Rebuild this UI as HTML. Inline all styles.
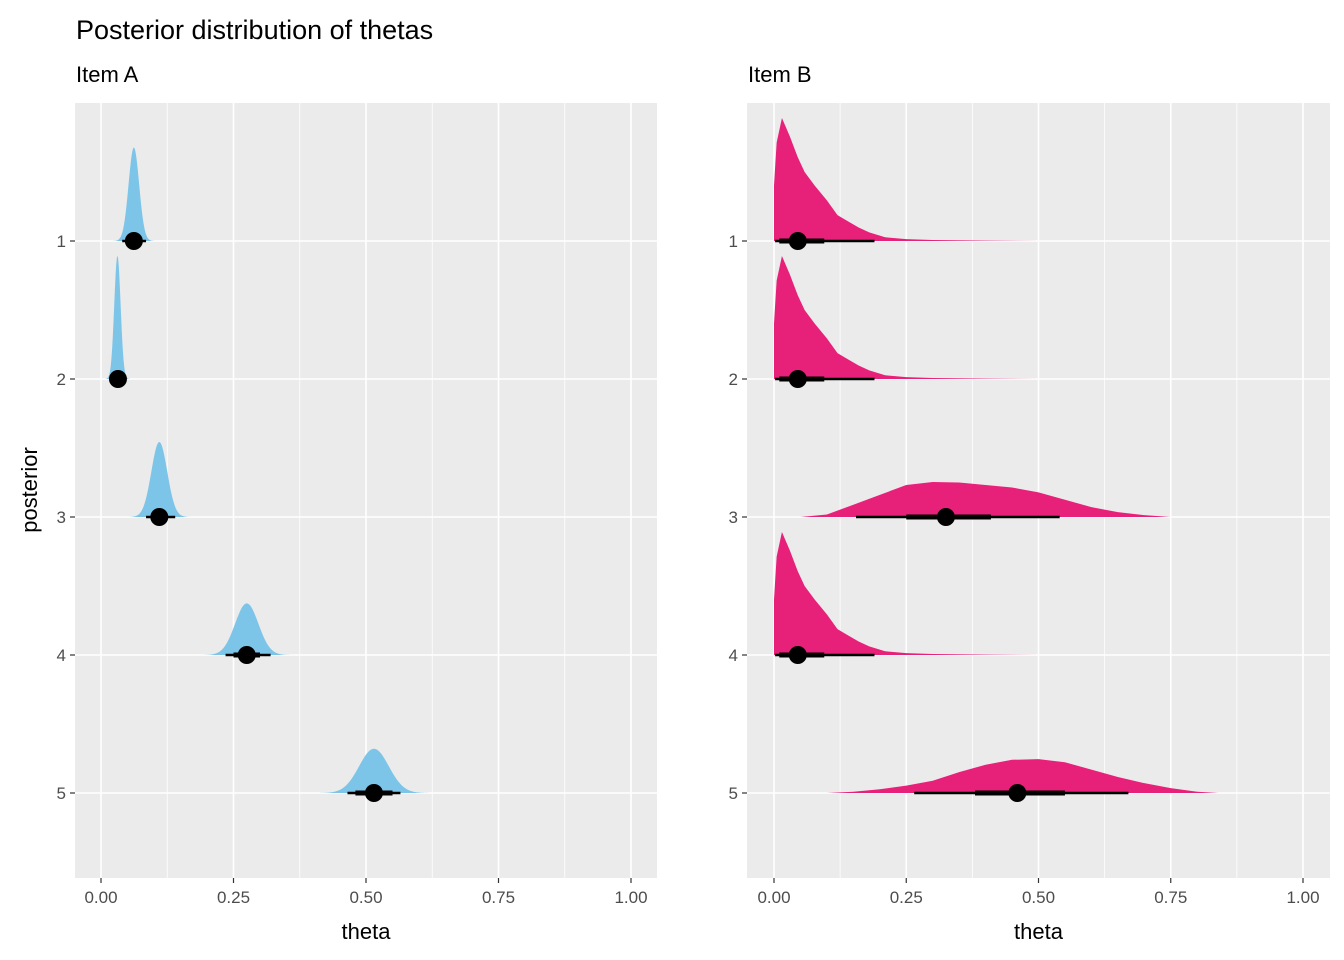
<!DOCTYPE html>
<html><head><meta charset="utf-8"><style>
body{margin:0;background:#fff;}
svg{display:block;font-family:"Liberation Sans",Arial,sans-serif;}
</style></head><body>
<svg id="chart" width="1344" height="960">
<text x="76" y="39" font-size="27" fill="#000">Posterior distribution of thetas</text>
<text x="37" y="490" font-size="22" fill="#000" transform="rotate(-90 37 490)" text-anchor="middle">posterior</text>
</svg>
<script>
// Item A: approx normal posteriors
const rows = [1,2,3,4,5];
const aMean = [0.062, 0.031, 0.11, 0.275, 0.515];
const aSd = [0.01, 0.006, 0.015, 0.022, 0.028];
const aPeak = [0.76, 1.0, 0.61, 0.42, 0.36];
const aPoint = [0.062, 0.032, 0.11, 0.275, 0.515];
const aThickLo = [0.05, 0.025, 0.095, 0.25, 0.48];
const aThickHi = [0.075, 0.04, 0.125, 0.3, 0.55];
const aThinLo = [0.04, 0.018, 0.085, 0.235, 0.465];
const aThinHi = [0.085, 0.048, 0.14, 0.32, 0.565];
// Item B: density shapes (theta grid, relative height)
const bGridSkew = [0,0.005,0.015,0.03,0.045,0.058,0.077,0.1,0.12,0.14,0.16,0.18,0.21,0.25,0.3,0.4,0.5];
const bHSkew = [0.45,0.8,1.0,0.85,0.68,0.56,0.45,0.33,0.21,0.16,0.11,0.07,0.03,0.015,0.008,0.003,0];
const bGrid3 = [0.05,0.1,0.15,0.2,0.25,0.3,0.35,0.4,0.45,0.5,0.55,0.6,0.65,0.7,0.75];
const bH3 = [0,0.02,0.1,0.18,0.26,0.285,0.28,0.26,0.24,0.2,0.14,0.08,0.04,0.015,0];
const bGrid5 = [0.1,0.15,0.2,0.25,0.3,0.35,0.4,0.45,0.5,0.55,0.6,0.65,0.7,0.75,0.8,0.84];
const bH5 = [0,0.01,0.03,0.06,0.1,0.17,0.23,0.27,0.275,0.25,0.19,0.13,0.08,0.04,0.01,0];
const bPoint = [0.045,0.045,0.325,0.045,0.46];
const bThickLo = [0.01,0.01,0.25,0.01,0.38];
const bThickHi = [0.095,0.095,0.41,0.095,0.55];
const bThinLo = [0.002,0.002,0.155,0.002,0.265];
const bThinHi = [0.19,0.19,0.54,0.19,0.67];
const xTicks = [0,0.25,0.5,0.75,1];
const xTickLabels = ["0.00","0.25","0.50","0.75","1.00"];

const NS="http://www.w3.org/2000/svg";
const svg=document.getElementById('chart');
function mk(tag,attrs,parent){const e=document.createElementNS(NS,tag);for(const k in attrs)e.setAttribute(k,attrs[k]);(parent||svg).appendChild(e);return e;}
const yScale=r=>241+(r-1)*138;
const HMAX=123;

function panel(px0,px1,x0px,x1px,label,fill,drawDens,pts,tl,th,nl,nh,key){
  const xs=v=>x0px+v*(x1px-x0px);
  const g=mk('g',{});
  
  
  const bg=mk('rect',{x:px0,y:103,width:px1-px0,height:775,fill:'#EBEBEB'},g);
  
  
  for(let i=0;i<4;i++){const v=0.125+i*0.25;mk('line',{x1:xs(v),x2:xs(v),y1:103,y2:878,stroke:'#fff','stroke-width':0.8},g);}
  xTicks.forEach((v,i)=>{
    mk('line',{x1:xs(v),x2:xs(v),y1:103,y2:878,stroke:'#fff','stroke-width':1.6},g);
    mk('line',{x1:xs(v),x2:xs(v),y1:878,y2:883,stroke:'#333','stroke-width':1.2},g);
    const t=mk('text',{x:xs(v),y:903,'font-size':17,fill:'#4d4d4d','text-anchor':'middle'},g);t.textContent=xTickLabels[i];
    
    
  });
  rows.forEach(r=>{
    mk('line',{x1:px0,x2:px1,y1:yScale(r),y2:yScale(r),stroke:'#fff','stroke-width':1.6},g);
    mk('line',{x1:px0-5,x2:px0,y1:yScale(r),y2:yScale(r),stroke:'#333','stroke-width':1.2},g);
    const t=mk('text',{x:px0-9,y:yScale(r)+6,'font-size':17,fill:'#4d4d4d','text-anchor':'end'},g);t.textContent=r;
    
    
  });
  rows.forEach((r,i)=>{
    const d=drawDens(i,xs);
    const p=mk('path',{d:d,fill:fill},g);
    
    
    const y=yScale(r);
    mk('line',{x1:xs(nl[i]),x2:xs(nh[i]),y1:y,y2:y,stroke:'#000','stroke-width':2.5},g);
    mk('line',{x1:xs(tl[i]),x2:xs(th[i]),y1:y,y2:y,stroke:'#000','stroke-width':5},g);
    const c=mk('circle',{cx:xs(pts[i]),cy:y,r:9,fill:'#000'},g);
    
    
  });
  const sub=mk('text',{x:px0+1,y:82,'font-size':22,fill:'#000'});sub.textContent=label;
  
  
  const xt=mk('text',{x:(px0+px1)/2,y:939,'font-size':22,fill:'#000','text-anchor':'middle'});xt.textContent='theta';
  
  
}
function normDens(i,xs){
  const y=yScale(rows[i]);let d='';
  for(let k=0;k<=80;k++){const v=aMean[i]-4*aSd[i]+k*8*aSd[i]/80;const z=(v-aMean[i])/aSd[i];
    const h=aPeak[i]*HMAX*Math.exp(-z*z/2);d+=(k?'L':'M')+xs(v)+','+(y-h);}
  return d+'L'+xs(aMean[i]+4*aSd[i])+','+y+'L'+xs(aMean[i]-4*aSd[i])+','+y+'Z';
}
function gridDens(i,xs){
  const y=yScale(rows[i]);
  let gx=bGridSkew,gh=bHSkew;if(i===2){gx=bGrid3;gh=bH3;}if(i===4){gx=bGrid5;gh=bH5;}
  let d='M'+xs(gx[0])+','+y;
  gx.forEach((v,k)=>{d+='L'+xs(v)+','+(y-gh[k]*HMAX);});
  return d+'L'+xs(gx[gx.length-1])+','+y+'Z';
}
panel(75,657,101,631,'Item A','#7DC5E8',normDens,aPoint,aThickLo,aThickHi,aThinLo,aThinHi,'item-a');
panel(747,1330,774,1303,'Item B','#E7207A',gridDens,bPoint,bThickLo,bThickHi,bThinLo,bThinHi,'item-b');
</script>
</body></html>
